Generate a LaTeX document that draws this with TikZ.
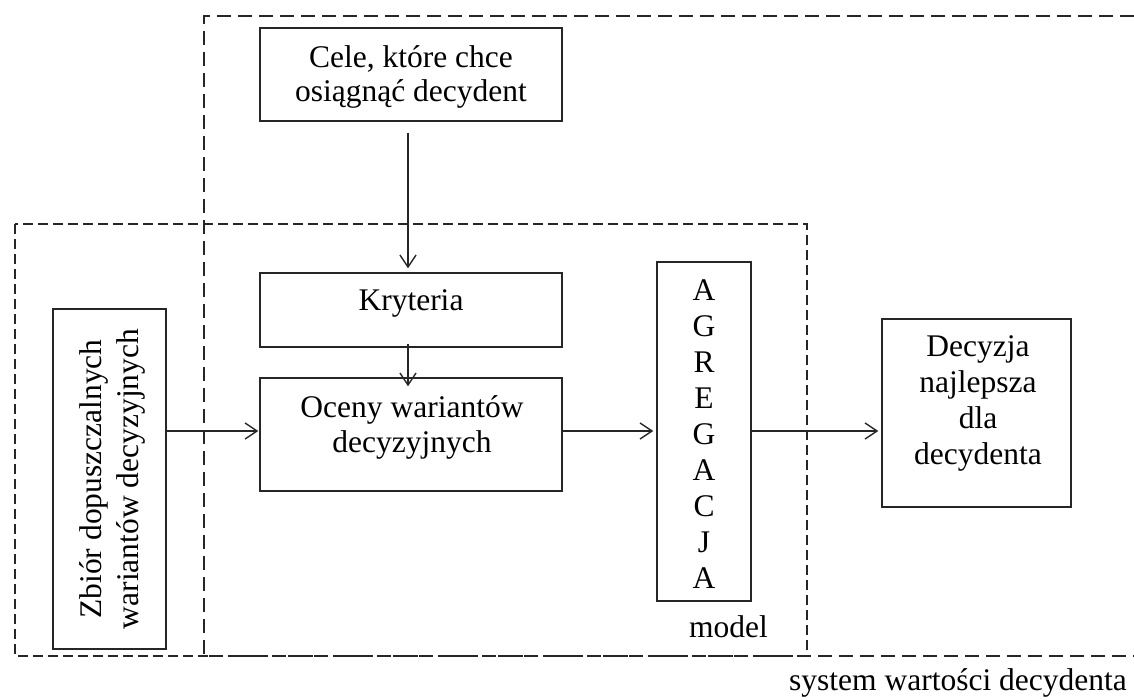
\documentclass[tikz,border=0pt]{standalone}
\usepackage{fontspec}
\setmainfont{Liberation Serif}
\usetikzlibrary{arrows.meta,fit}
\begin{document}
\begin{tikzpicture}[x=1pt,y=-1pt,
  line/.style={draw=black!85, line width=1.4pt},
  box/.style={line, inner sep=0pt},
  txt/.style={font=\fontsize{31.5}{36}\selectfont, inner sep=0pt, align=center},
  arr/.style={line, -{Straight Barb[length=12pt,width=16pt,line width=1.4pt]}},
  longdash/.style={line, dash pattern=on 14pt off 7pt},
  shortdash/.style={line, dash pattern=on 10pt off 5pt}
]
\useasboundingbox (0,0) rectangle (1134,699);

% value system of the decision maker (open to the right)
\draw[longdash] (1134,16) -- (204,16) -- (204,656) -- (1134,656);
% model frame
\draw[shortdash] (15,224) rectangle (807,656);

% boxes
\node[box, fit={(260,28) (562,121)}] (cele) {};
\node[box, fit={(260,273) (562,347)}] (kryt) {};
\node[box, fit={(260,378) (562,491)}] (oceny) {};
\node[box, fit={(657,262) (751,601)}] (agr) {};
\node[box, fit={(882,319) (1071,507)}] (dec) {};
\node[box, fit={(53,309) (166,649)}] (zbior) {};

% texts (a multi-line node's base is the baseline of its last line)
\node[txt, anchor=base] (celet) at (411,101) {Cele, które chce\\[-2pt]osiągnąć decydent};
\node[txt, anchor=base] (krytt) at (411,310) {Kryteria};
\node[txt, anchor=base] (ocenyt) at (412,452) {Oceny wariantów\\[-1pt]decyzyjnych};
\node[txt, anchor=base] (agrt) at (704,588) {A\\G\\R\\E\\G\\A\\C\\J\\A};
\node[txt, anchor=base] (dect) at (978,464) {Decyzja\\najlepsza\\dla\\decydenta};
\node[txt, rotate=90] (zbiort) at (112,479) {Zbiór dopuszczalnych\\[1pt]wariantów decyzyjnych};
\node[txt, anchor=base west] (model) at (689,637) {model};
\node[txt, anchor=base east] (system) at (1127,690) {system wartości decydenta};

% connectors
\coordinate (ax) at (408,0);
\coordinate (ay) at (0,431);
\draw[arr, shorten <=11pt, shorten >=4pt] (cele.south -| ax) -- (kryt.north -| ax);
\draw[arr, shorten <=-4pt, shorten >=-9pt] (kryt.south -| ax) -- (oceny.north -| ax);
\draw[arr, shorten >=1pt] (zbior.east |- ay) -- (oceny.west |- ay);
\draw[arr, shorten >=3pt] (oceny.east |- ay) -- (agr.west |- ay);
\draw[arr, shorten >=3pt] (agr.east |- ay) -- (dec.west |- ay);
\end{tikzpicture}
\end{document}
